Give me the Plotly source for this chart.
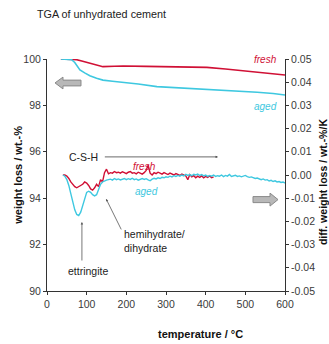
import plotly.graph_objects as go

# --- TGA curves (left axis, weight loss in wt.-%) ---
tga_fresh_T = [35, 60, 75, 90, 110, 130, 141, 170, 192, 250, 300, 350, 403, 450, 500, 550, 600]
tga_fresh_w = [100.0, 100.0, 99.97, 99.9, 99.8, 99.71, 99.67, 99.69, 99.70, 99.68, 99.67, 99.66, 99.64, 99.57, 99.49, 99.41, 99.31]

tga_aged_T = [35, 55, 62, 70, 83, 95, 108, 125, 141, 165, 192, 230, 277, 330, 403, 450, 487, 530, 570, 600]
tga_aged_w = [100.0, 100.0, 99.97, 99.85, 99.53, 99.4, 99.28, 99.17, 99.09, 99.04, 99.0, 98.92, 98.81, 98.76, 98.71, 98.67, 98.63, 98.57, 98.51, 98.45]

# --- DTG curves (right axis, wt.-%/K) ---
dtg_fresh_T = list(range(40, 425, 5))
dtg_fresh_v = [
    0.0000, 0.0000, -0.0005, -0.0015, -0.0030, -0.0040, -0.0050, -0.0055, -0.0050, -0.0045,
    -0.0040, -0.0030, -0.0035, -0.0045, -0.0060, -0.0065, -0.0055, -0.0040, -0.0050, -0.0020,
    -0.0030, 0.0010, 0.0025, 0.0005, 0.0010, 0.0008, 0.0015, 0.0010, 0.0012, 0.0008,
    0.0014, 0.0010, 0.0006, 0.0012, 0.0015, 0.0008, 0.0010, 0.0005, 0.0012, 0.0008,
    0.0004, 0.0010, 0.0020, 0.0042, 0.0008, 0.0000, 0.0010, 0.0006, 0.0012, 0.0008,
    0.0004, 0.0010, 0.0006, 0.0002, 0.0008, 0.0004, 0.0000, 0.0006, 0.0003, -0.0002,
    0.0004, 0.0000, -0.0004, -0.0020, 0.0002, -0.0008, -0.0003, -0.0012, -0.0005, -0.0010,
    -0.0004, -0.0012, -0.0006, -0.0010, -0.0004, -0.0012, -0.0008,
]

dtg_aged_T = list(range(40, 605, 5))
dtg_aged_v = [
    0.0000, -0.0005, -0.0020, -0.0045, -0.0080, -0.0115, -0.0150, -0.0170, -0.0175, -0.0160,
    -0.0130, -0.0095, -0.0075, -0.0070, -0.0075, -0.0085, -0.0090, -0.0085, -0.0060, -0.0040,
    -0.0030, -0.0025, -0.0022, -0.0020, -0.0018, -0.0022, -0.0015, -0.0020, -0.0017, -0.0021,
    -0.0018, -0.0015, -0.0020, -0.0016, -0.0019, -0.0014, -0.0020, -0.0017, -0.0022, -0.0018,
    -0.0015, -0.0019, -0.0016, -0.0021, -0.0025, -0.0018, -0.0014, -0.0017, -0.0012, -0.0015,
    -0.0010, -0.0012, -0.0008, -0.0010, -0.0005, -0.0008, -0.0003, -0.0006, -0.0002, -0.0005,
    0.0000, -0.0004, 0.0003, -0.0002, 0.0002, -0.0003, 0.0003, 0.0000, 0.0004, -0.0002,
    0.0002, -0.0004, 0.0000, -0.0006, -0.0002, -0.0005, 0.0000, -0.0006, -0.0003, -0.0005,
    0.0000, -0.0007, -0.0002, -0.0005, 0.0002, -0.0006, -0.0003, -0.0001, -0.0006, -0.0004,
    -0.0008, -0.0005, -0.0002, -0.0007, -0.0010, -0.0008, -0.0012, -0.0015, -0.0013, -0.0018,
    -0.0020, -0.0017, -0.0022, -0.0020, -0.0026, -0.0023, -0.0028, -0.0025, -0.0030, -0.0028,
    -0.0032, -0.0030, -0.0035,
]

x_ticks = [0, 100, 200, 300, 400, 500, 600]
y_ticks = [90, 92, 94, 96, 98, 100]
y2_ticks = [-0.05, -0.04, -0.03, -0.02, -0.01, 0.00, 0.01, 0.02, 0.03, 0.04, 0.05]
y2_labels = ["%.2f" % v for v in y2_ticks]

RED = "#d01035"
CYAN = "#3ec8e0"
NARROW = "Liberation Sans Narrow, Arial Narrow, Liberation Sans, sans-serif"
BOLD = "Liberation Sans, Arial, sans-serif"

fig = go.Figure()
fig.add_trace(go.Scatter(x=tga_fresh_T, y=tga_fresh_w, mode="lines",
                         line=dict(color=RED, width=1.6), yaxis="y"))
fig.add_trace(go.Scatter(x=tga_aged_T, y=tga_aged_w, mode="lines",
                         line=dict(color=CYAN, width=1.6), yaxis="y"))
fig.add_trace(go.Scatter(x=dtg_fresh_T, y=dtg_fresh_v, mode="lines",
                         line=dict(color=RED, width=1.4), yaxis="y2"))
fig.add_trace(go.Scatter(x=dtg_aged_T, y=dtg_aged_v, mode="lines",
                         line=dict(color=CYAN, width=1.4), yaxis="y2"))

axis_common = dict(showgrid=False, zeroline=False, showline=True, linecolor="#333",
                   linewidth=1, ticks="outside", ticklen=3, tickcolor="#333",
                   tickfont=dict(family=NARROW, size=10.5, color="#3a3a3a"))

fig.update_layout(
    width=329, height=344,
    margin=dict(l=47, r=44, t=59, b=53),
    paper_bgcolor="white", plot_bgcolor="white",
    showlegend=False,
    xaxis=dict(range=[0, 600], tickvals=x_ticks, **axis_common),
    yaxis=dict(range=[90, 100], tickvals=y_ticks, **axis_common),
    yaxis2=dict(range=[-0.05, 0.05], tickvals=y2_ticks, ticktext=y2_labels,
                overlaying="y", side="right", **axis_common),
)

ann_font = dict(family=NARROW, size=10.5, color="#222")
annotations = [
    dict(text="TGA of unhydrated cement", xref="paper", yref="paper", x=-0.05, y=1.192,
         xanchor="left", yanchor="middle", showarrow=False,
         font=dict(family=NARROW, size=10.8, color="#222")),
    dict(text="<b>weight loss / wt.-%</b>", xref="paper", yref="paper", x=-0.123, y=0.5,
         textangle=-90, showarrow=False, xanchor="center", yanchor="middle",
         font=dict(family=BOLD, size=11, color="#111")),
    dict(text="<b>diff. weight loss / wt.-%/K</b>", xref="paper", yref="paper", x=1.16, y=0.47,
         textangle=-90, showarrow=False, xanchor="center", yanchor="middle",
         font=dict(family=BOLD, size=10.5, color="#111")),
    dict(text="<b>temperature / °C</b>", xref="paper", yref="paper", x=0.643, y=-0.185,
         showarrow=False, xanchor="center", yanchor="middle",
         font=dict(family=BOLD, size=11, color="#111")),
    # curve labels
    dict(text="<i>fresh</i>", x=585, y=99.96, xref="x", yref="y", xanchor="right",
         showarrow=False, font=dict(family=NARROW, size=10, color=RED)),
    dict(text="<i>aged</i>", x=585, y=97.95, xref="x", yref="y", xanchor="right",
         showarrow=False, font=dict(family=NARROW, size=10, color=CYAN)),
    dict(text="<i>fresh</i>", x=247, y=0.0035, xref="x", yref="y2",
         showarrow=False, font=dict(family=NARROW, size=10, color=RED)),
    dict(text="<i>aged</i>", x=250, y=-0.0072, xref="x", yref="y2",
         showarrow=False, font=dict(family=NARROW, size=10, color=CYAN)),
    # process labels
    dict(text="C-S-H", x=134, y=0.0078, xref="x", yref="y2", xanchor="right",
         showarrow=False, font=ann_font),
    dict(text="", x=431, y=0.0078, ax=142, ay=0.0078, xref="x", yref="y2", axref="x", ayref="y2",
         showarrow=True, arrowhead=2, arrowsize=0.6, arrowwidth=0.8, arrowcolor="#444"),
    dict(text="ettringite", x=103, y=-0.0415, xref="x", yref="y2", showarrow=False, font=ann_font),
    dict(text="", x=88, y=-0.0203, ax=88, ay=-0.0375, xref="x", yref="y2", axref="x", ayref="y2",
         showarrow=True, arrowhead=2, arrowsize=0.6, arrowwidth=0.8, arrowcolor="#555"),
    dict(text="hemihydrate/<br>dihydrate", x=189, y=-0.0285, xref="x", yref="y2", xanchor="left",
         align="left", showarrow=False, font=ann_font),
    dict(text="", x=149, y=-0.0103, ax=189, ay=-0.0241, xref="x", yref="y2", axref="x", ayref="y2",
         showarrow=True, arrowhead=2, arrowsize=0.6, arrowwidth=0.8, arrowcolor="#555"),
]
fig.update_layout(annotations=annotations)

# grey block arrows pointing to the relevant axis
arrow_style = dict(fillcolor="#b8b8b8", line=dict(color="#8a8a8a", width=1), layer="above")
fig.add_shape(type="path", xref="x", yref="y",
              path="M 20.2 98.97 L 40.3 99.22 L 40.3 99.09 L 85.7 99.09 L 85.7 98.84 "
                   "L 40.3 98.84 L 40.3 98.71 Z", **arrow_style)
fig.add_shape(type="path", xref="x", yref="y",
              path="M 582.4 93.94 L 562.2 94.22 L 562.2 94.07 L 519.3 94.07 L 519.3 93.81 "
                   "L 562.2 93.81 L 562.2 93.66 Z", **arrow_style)

fig.write_html("out.html")
